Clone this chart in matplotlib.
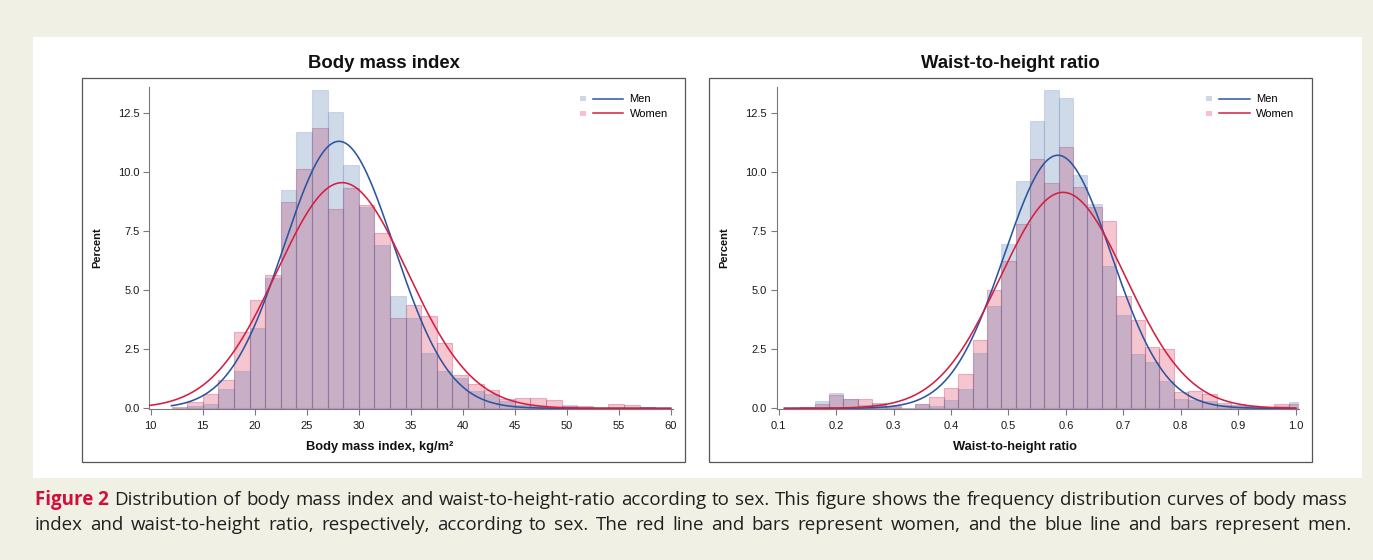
import numpy as np
import matplotlib
matplotlib.use('Agg')
import matplotlib.pyplot as plt
from matplotlib.patches import Rectangle
from matplotlib.lines import Line2D
from matplotlib.legend_handler import HandlerBase

plt.rcParams['font.family'] = ['Liberation Sans', 'DejaVu Sans']

# ---------------- data ----------------
bmi_bin_start = 12.0
bmi_bin_width = 1.5
bmi_men = [0.03, 0.10, 0.20, 0.81, 1.60, 3.41, 5.50, 9.24, 11.70, 13.45, 12.54, 10.28,
           8.50, 6.91, 4.74, 3.84, 2.36, 1.60, 1.28, 0.72, 0.62, 0.29, 0.15, 0.11,
           0.06, 0.13, 0.03, 0.02, 0.00, 0.00, 0.04]
bmi_women = [0.06, 0.28, 0.62, 1.20, 3.24, 4.60, 5.64, 8.71, 10.13, 11.87, 8.44, 9.30,
             8.60, 7.43, 3.84, 4.38, 3.90, 2.75, 1.39, 1.04, 0.79, 0.39, 0.45, 0.42,
             0.34, 0.10, 0.11, 0.03, 0.20, 0.13, 0.05]
# normal fit parameters (mean, sd) and curve range
bmi_fit_men = (28.1, 5.30, 12.0, 60.0)
bmi_fit_women = (28.4, 6.27, 9.8, 60.0)

whtr_bin_center_start = 0.125
whtr_bin_width = 0.025
whtr_men = [0.00, 0.02, 0.30, 0.65, 0.41, 0.13, 0.20, 0.04, 0.00, 0.20, 0.11, 0.34,
            0.81, 2.36, 4.32, 6.93, 9.62, 12.15, 13.45, 13.13, 9.86, 8.64, 6.00, 3.94,
            2.29, 1.94, 1.14, 0.41, 0.34, 0.29, 0.15, 0.11, 0.08, 0.04, 0.08, 0.27]
whtr_women = [0.03, 0.06, 0.20, 0.58, 0.40, 0.41, 0.22, 0.08, 0.03, 0.20, 0.46, 0.86,
              1.46, 2.89, 4.99, 6.21, 7.80, 10.56, 9.51, 11.05, 9.34, 8.53, 7.91, 4.75,
              3.73, 2.61, 2.51, 0.69, 0.74, 0.62, 0.22, 0.15, 0.11, 0.06, 0.20, 0.20]
whtr_fit_men = (0.586, 0.0932, 0.11, 1.0)
whtr_fit_women = (0.595, 0.1092, 0.11, 1.0)

y_ticks = [0.0, 2.5, 5.0, 7.5, 10.0, 12.5]
bmi_ticks = [10, 15, 20, 25, 30, 35, 40, 45, 50, 55, 60]
whtr_ticks = [0.1, 0.2, 0.3, 0.4, 0.5, 0.6, 0.7, 0.8, 0.9, 1.0]
series_labels = ['Men', 'Women']

titles = ['Body mass index', 'Waist-to-height ratio']
xlabels = ['Body mass index, kg/m²', 'Waist-to-height ratio']

# ---------------- style ----------------
W, H = 1373, 560
BG = '#F0F0E4'
men_face = (67/255, 110/255, 170/255, 0.25)
women_face = (220/255, 30/255, 70/255, 0.25)
men_edge = (90/255, 125/255, 180/255, 0.22)
women_edge = (185/255, 55/255, 100/255, 0.32)
men_line = '#2A55A0'
women_line = '#D31F43'
axis_col = '#7A7A7A'

fig = plt.figure(figsize=(W/100, H/100), dpi=100, facecolor=BG)

def fx(px):
    return px / W

def fy(py):
    return 1 - py / H

# white panel (behind everything)
fig.patches.append(Rectangle((fx(33), fy(478)), fx(1362) - fx(33), fy(37) - fy(478),
                             transform=fig.transFigure, facecolor='white',
                             edgecolor='none', zorder=-5))
# frames
for (x0, x1) in [(82, 685), (709, 1312)]:
    fig.patches.append(Rectangle((fx(x0), fy(462)), fx(x1) - fx(x0), fy(78) - fy(462),
                                 transform=fig.transFigure, facecolor='none',
                                 edgecolor='#555555', lw=0.9, zorder=1))


class LegendKey:
    def __init__(self, face, line):
        self.face = face
        self.line = line


class KeyHandler(HandlerBase):
    def create_artists(self, legend, orig_handle, xdescent, ydescent, width, height,
                       fontsize, trans):
        s = 4.0
        cy = height / 2 - ydescent
        sq = Rectangle((-xdescent, cy - s / 2), s, s,
                       facecolor=orig_handle.face, edgecolor='none', transform=trans)
        ln = Line2D([-xdescent + width * 0.30, -xdescent + width], [cy, cy],
                    color=orig_handle.line, lw=1.1, transform=trans)
        return [sq, ln]


def style_axes(ax):
    for s in ['top', 'right']:
        ax.spines[s].set_visible(False)
    for s in ['left', 'bottom']:
        ax.spines[s].set_color(axis_col)
        ax.spines[s].set_linewidth(0.8)
    ax.tick_params(direction='out', length=4.5, width=0.8, color=axis_col,
                   labelsize=8, labelcolor='#1A1A1A')
    ax.tick_params(axis='y', pad=2.5)
    ax.tick_params(axis='x', pad=4.0)
    ax.set_yticks(y_ticks)
    ax.set_yticklabels([f'{v:.1f}' for v in y_ticks])
    ax.set_ylim(-0.04, 13.6)
    ax.set_facecolor('none')


def normal_curve(ax, fit, width, color):
    mu, sd, lo, hi = fit
    xs = np.linspace(lo, hi, 400)
    ys = 100 * width * np.exp(-0.5 * ((xs - mu) / sd) ** 2) / (sd * np.sqrt(2 * np.pi))
    ax.plot(xs, ys, color=color, lw=1.15, zorder=5)


def add_legend(ax):
    keys = [LegendKey((67/255, 110/255, 170/255, 0.27), men_line),
            LegendKey((220/255, 30/255, 70/255, 0.27), women_line)]
    ax.legend(keys, series_labels, handler_map={LegendKey: KeyHandler()},
              loc='upper left', bbox_to_anchor=(0.822, 0.976), frameon=False,
              fontsize=8, handlelength=3.9, handletextpad=0.55, labelspacing=0.43,
              borderpad=0, borderaxespad=0)


# ---------------- left panel ----------------
ax1 = fig.add_axes([fx(149.3), fy(409.3), fx(673.3) - fx(149.3), (409.3 - 86.7) / H])
bmi_left = bmi_bin_start + bmi_bin_width * np.arange(len(bmi_men))
ax1.bar(bmi_left, bmi_women, width=bmi_bin_width, align='edge', facecolor=women_face,
        edgecolor=women_edge, lw=0.8, zorder=2)
ax1.bar(bmi_left, bmi_men, width=bmi_bin_width, align='edge', facecolor=men_face,
        edgecolor=men_edge, lw=0.8, zorder=3)
normal_curve(ax1, bmi_fit_men, bmi_bin_width, men_line)
normal_curve(ax1, bmi_fit_women, bmi_bin_width, women_line)
style_axes(ax1)
ax1.set_xlim(9.86, 60.25)
ax1.set_xticks(bmi_ticks)
ax1.set_xticklabels([str(v) for v in bmi_ticks])
add_legend(ax1)

# ---------------- right panel ----------------
ax2 = fig.add_axes([fx(776.7), fy(409.3), fx(1299.3) - fx(776.7), (409.3 - 86.7) / H])
whtr_centers = whtr_bin_center_start + whtr_bin_width * np.arange(len(whtr_men))
ax2.bar(whtr_centers, whtr_women, width=whtr_bin_width, align='center',
        facecolor=women_face, edgecolor=women_edge, lw=0.8, zorder=2)
ax2.bar(whtr_centers, whtr_men, width=whtr_bin_width, align='center',
        facecolor=men_face, edgecolor=men_edge, lw=0.8, zorder=3)
normal_curve(ax2, whtr_fit_men, whtr_bin_width, men_line)
normal_curve(ax2, whtr_fit_women, whtr_bin_width, women_line)
style_axes(ax2)
ax2.set_xlim(0.0965, 1.0063)
ax2.set_xticks(whtr_ticks)
ax2.set_xticklabels([f'{v:.1f}' for v in whtr_ticks])
add_legend(ax2)

# ---------------- titles & labels ----------------
for cx, t in zip([383.5, 1010.5], titles):
    fig.text(fx(cx), fy(63), t, ha='center', va='center', fontsize=13.3,
             fontweight='bold', color='#111111')
for cx in [97, 724]:
    fig.text(fx(cx), fy(248), 'Percent', ha='center', va='center', rotation=90,
             fontsize=8, fontweight='bold', color='#111111')
for cx, t in zip([380, 1015], xlabels):
    fig.text(fx(cx), fy(447), t, ha='center', va='center', fontsize=9.3,
             fontweight='bold', color='#111111')

# ---------------- caption (justified) ----------------
cap_family = ['Open Sans', 'DejaVu Sans']
cap_red = '#D0103A'
cap_col = '#231F20'
line1 = [('Figure 2', True)] + [(w, False) for w in
         'Distribution of body mass index and waist-to-height-ratio according to sex. This figure shows the frequency distribution curves of body mass'.split()]
line2 = [(w, False) for w in
         'index and waist-to-height ratio, respectively, according to sex. The red line and bars represent women, and the blue line and bars represent men.'.split()]

renderer = fig.canvas.get_renderer()


def measure(word, bold, fs):
    t = fig.text(0, 0, word, fontsize=fs, family=cap_family,
                 fontweight='bold' if bold else 'normal')
    w = t.get_window_extent(renderer).width
    t.remove()
    return w


fs0 = 12.0
space0 = measure('a a', False, fs0) - 2 * measure('a', False, fs0)
nat = sum(measure(w, b, fs0) for w, b in line1) + (len(line1) - 1) * space0
fs = fs0 * (1347 - 35) / nat * 0.985
fs = min(max(fs, 10.0), 14.0)


def place_line(words, x0, x1, ybase):
    widths = [measure(w, b, fs) for w, b in words]
    gap = (x1 - x0 - sum(widths)) / (len(words) - 1)
    x = x0
    for (w, b), wd in zip(words, widths):
        fig.text(fx(x), fy(ybase), w, fontsize=fs, family=cap_family,
                 fontweight='bold' if b else 'normal',
                 color=cap_red if b else cap_col, ha='left', va='baseline')
        x += wd + gap


place_line(line1, 35, 1347, 505)
place_line(line2, 35, 1352, 530)

fig.savefig('out.png', dpi=100, facecolor=BG)
